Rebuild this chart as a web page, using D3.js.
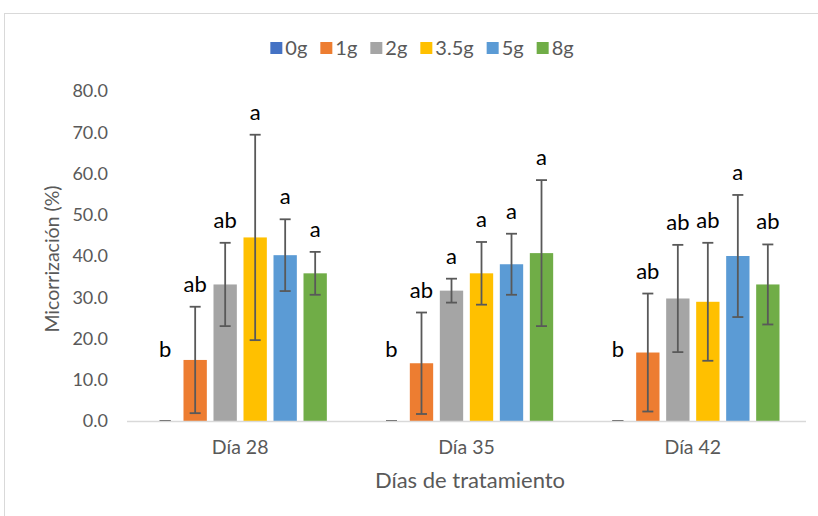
<!DOCTYPE html>
<html>
<head>
<meta charset="utf-8">
<script src="https://cdn.jsdelivr.net/npm/d3@7"></script>
<style>
  html, body { margin: 0; padding: 0; background: #ffffff; }
  svg { display: block; font-family: Lato, "Open Sans", sans-serif; }
</style>
</head>
<body>
<svg id="chart" width="818" height="516"></svg>
<script>
// Treatment days (x-axis groups) and doses (series)
const days = ["Día 28", "Día 35", "Día 42"];
const doses = ["0g", "1g", "2g", "3.5g", "5g", "8g"];
const doseColors = ["#4472C4", "#ED7D31", "#A5A5A5", "#FFC000", "#5B9BD5", "#70AD47"];

// Mean mycorrhization (%) per dose, one value per day
const mean0g  = [0.0, 0.0, 0.0];
const mean1g  = [14.8, 14.0, 16.6];
const mean2g  = [33.1, 31.6, 29.7];
const mean35g = [44.5, 35.8, 28.9];
const mean5g  = [40.2, 38.0, 40.0];
const mean8g  = [35.8, 40.7, 33.1];

// Error (±) per dose, one value per day
const err0g  = [0.0, 0.0, 0.0];
const err1g  = [12.9, 12.3, 14.3];
const err2g  = [10.1, 2.9, 13.0];
const err35g = [24.9, 7.6, 14.3];
const err5g  = [8.7, 7.4, 14.8];
const err8g  = [5.2, 17.7, 9.7];

// Significance letters per day, in dose order
const letters28 = ["b", "ab", "ab", "a", "a", "a"];
const letters35 = ["b", "ab", "a", "a", "a", "a"];
const letters42 = ["b", "ab", "ab", "ab", "a", "ab"];

const yTicks = [0, 10, 20, 30, 40, 50, 60, 70, 80];

const means = [mean0g, mean1g, mean2g, mean35g, mean5g, mean8g];
const errs = [err0g, err1g, err2g, err35g, err5g, err8g];
const letters = [letters28, letters35, letters42];

const rows = [];
days.forEach((day, di) => {
  doses.forEach((dose, si) => {
    rows.push({
      day, dose, si,
      value: means[si][di],
      err: errs[si][di],
      letter: letters[di][si]
    });
  });
});

const svg = d3.select("#chart");
const textColor = "#595959";

// chart area frame
svg.append("rect")
  .attr("x", 4.5).attr("y", 13.5)
  .attr("width", 830).attr("height", 520)
  .attr("fill", "none")
  .attr("stroke", "#d9d9d9")
  .attr("stroke-width", 1);

const plot = { left: 127, right: 806, top: 91, bottom: 421 };

const x0 = d3.scaleBand().domain(days).range([plot.left, plot.right]).paddingInner(0).paddingOuter(0);
const x1 = d3.scaleBand().domain(doses).range([0, x0.bandwidth()]).paddingInner(0.222).paddingOuter(0.883);
const y = d3.scaleLinear().domain([0, 80]).range([plot.bottom, plot.top]);

// y axis labels
const yAxis = svg.append("g")
  .attr("transform", `translate(${plot.left},0)`)
  .call(d3.axisLeft(y).tickValues(yTicks).tickFormat(d3.format(".1f")).tickSize(0).tickPadding(19));
yAxis.select(".domain").remove();
yAxis.selectAll("text")
  .attr("fill", textColor)
  .style("font-size", "18px")
  .style("font-family", "Lato, sans-serif");

// x axis labels
const xAxis = svg.append("g")
  .attr("transform", `translate(0,${plot.bottom})`)
  .call(d3.axisBottom(x0).tickSize(0).tickPadding(0));
xAxis.select(".domain").remove();
xAxis.selectAll("text")
  .attr("fill", textColor)
  .attr("dy", null)
  .attr("y", 33)
  .style("font-size", "19.5px")
  .style("font-family", "Lato, sans-serif");

// bars
const groups = svg.append("g").selectAll("g")
  .data(days).join("g")
  .attr("transform", d => `translate(${x0(d)},0)`);

groups.selectAll("rect")
  .data(day => rows.filter(r => r.day === day))
  .join("rect")
  .attr("x", d => x1(d.dose))
  .attr("y", d => y(d.value))
  .attr("width", x1.bandwidth())
  .attr("height", d => y(0) - y(d.value))
  .attr("fill", d => doseColors[d.si]);

// category axis line
svg.append("line")
  .attr("x1", plot.left).attr("x2", plot.right)
  .attr("y1", plot.bottom + 0.5).attr("y2", plot.bottom + 0.5)
  .attr("stroke", "#d9d9d9").attr("stroke-width", 1.5);

// error bars
const capHalf = 5.5;
const eb = groups.selectAll("g.err")
  .data(day => rows.filter(r => r.day === day))
  .join("g").attr("class", "err")
  .attr("stroke", "#595959").attr("stroke-width", 1.8);
const cx = d => x1(d.dose) + x1.bandwidth() / 2;
eb.append("line")
  .attr("x1", cx).attr("x2", cx)
  .attr("y1", d => y(d.value + d.err)).attr("y2", d => y(d.value - d.err));
eb.append("line")
  .attr("x1", d => cx(d) - capHalf).attr("x2", d => cx(d) + capHalf)
  .attr("y1", d => y(d.value + d.err)).attr("y2", d => y(d.value + d.err));
eb.append("line")
  .attr("x1", d => cx(d) - capHalf).attr("x2", d => cx(d) + capHalf)
  .attr("y1", d => y(d.value - d.err)).attr("y2", d => y(d.value - d.err));

// significance letters above each error bar
groups.selectAll("text.letter")
  .data(day => rows.filter(r => r.day === day))
  .join("text").attr("class", "letter")
  .attr("x", cx)
  .attr("y", d => Math.min(y(d.value + d.err) - 15, y(0) - 64))
  .attr("text-anchor", "middle")
  .attr("fill", "#000000")
  .style("font-size", "22px")
  .text(d => d.letter);

// axis titles
svg.append("text")
  .attr("transform", `translate(52,259) rotate(-90)`)
  .attr("text-anchor", "middle")
  .attr("dy", "0.35em")
  .attr("fill", textColor)
  .style("font-size", "19.5px")
  .text("Micorrización (%)");

svg.append("text")
  .attr("x", 470).attr("y", 488)
  .attr("text-anchor", "middle")
  .attr("fill", textColor)
  .style("font-size", "22px")
  .text("Días de tratamiento");

// legend
const legend = svg.append("g");
let lx = 0;
doses.forEach((dose, i) => {
  const item = legend.append("g").attr("transform", `translate(${lx},0)`);
  item.append("rect").attr("x", 0).attr("y", -6).attr("width", 12).attr("height", 12).attr("fill", doseColors[i]);
  const t = item.append("text").attr("x", 15).attr("dy", "0.35em")
    .attr("fill", textColor).style("font-size", "20px").text(dose);
  lx += 15 + t.node().getComputedTextLength() + 13;
});
const lw = lx - 13;
legend.attr("transform", `translate(${422 - lw / 2},48)`);
</script>
</body>
</html>
